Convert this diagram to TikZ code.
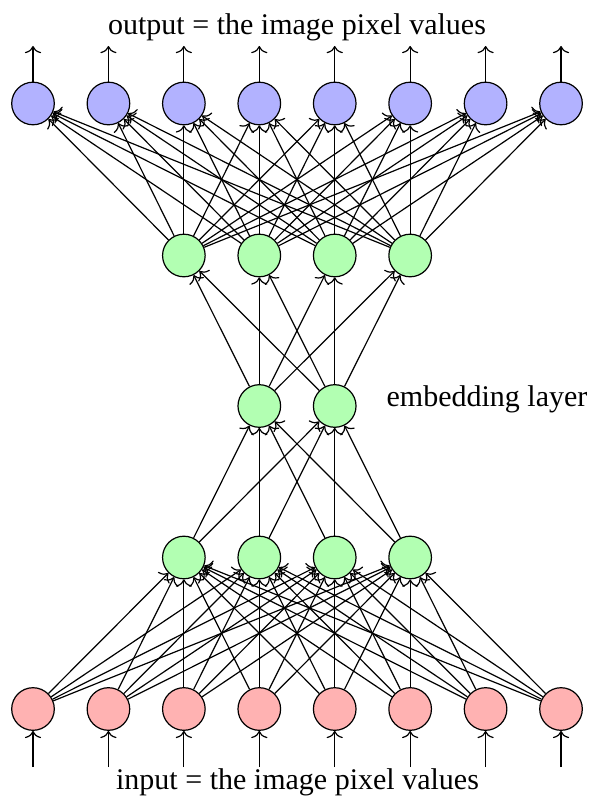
\documentclass[tikz,border=0pt]{standalone}
\usepackage{fontspec}
\setmainfont{Liberation Serif}
\usetikzlibrary{arrows.meta}
\begin{document}
\begin{tikzpicture}[x=0.3333pt,y=-0.3333pt,
  neuron/.style={circle,draw,minimum size=14.2pt,inner sep=0pt},
  inp/.style={neuron,fill=red!30},
  hid/.style={neuron,fill=green!30},
  outp/.style={neuron,fill=blue!30},
  conn/.style={-{Computer Modern Rightarrow[length=2.4pt,width=5.4pt]}},
  lbl/.style={font=\fontsize{10}{12}\selectfont,inner sep=0pt}]
\useasboundingbox (0,0) rectangle (588,796);
\foreach \i in {0,...,7} {
  \node[inp] (I\i) at ({33+75.43*\i},709) {};
  \node[outp] (O\i) at ({33+75.43*\i},103.5) {};
  \coordinate (IB\i) at ({33+75.43*\i},767);
  \coordinate (OT\i) at ({33+75.43*\i},46);
  \draw[conn] (IB\i) -- (I\i);
  \draw[conn] (O\i) -- (OT\i);
}
\foreach \j in {0,...,3} {
  \node[hid] (A\j) at ({33+75.43*(\j+2)},557.5) {};
  \node[hid] (B\j) at ({33+75.43*(\j+2)},255.5) {};
}
\foreach \k in {0,1} {
  \node[hid] (E\k) at ({33+75.43*(\k+3)},406) {};
}
\foreach \i in {0,...,7} {
  \foreach \j in {0,...,3} {
    \draw[conn] (I\i) -- (A\j);
    \draw[conn] (B\j) -- (O\i);
  }
}
\foreach \j in {0,...,3} {
  \foreach \k in {0,1} {
    \draw[conn] (A\j) -- (E\k);
    \draw[conn] (E\k) -- (B\j);
  }
}
\node[lbl,anchor=base] (outtxt) at (297,35) {output = the image pixel values};
\node[lbl,anchor=base] (intxt) at (297.5,789) {input = the image pixel values};
\node[lbl,anchor=base west] (embtxt) at (386,407) {embedding layer};
\end{tikzpicture}
\end{document}
